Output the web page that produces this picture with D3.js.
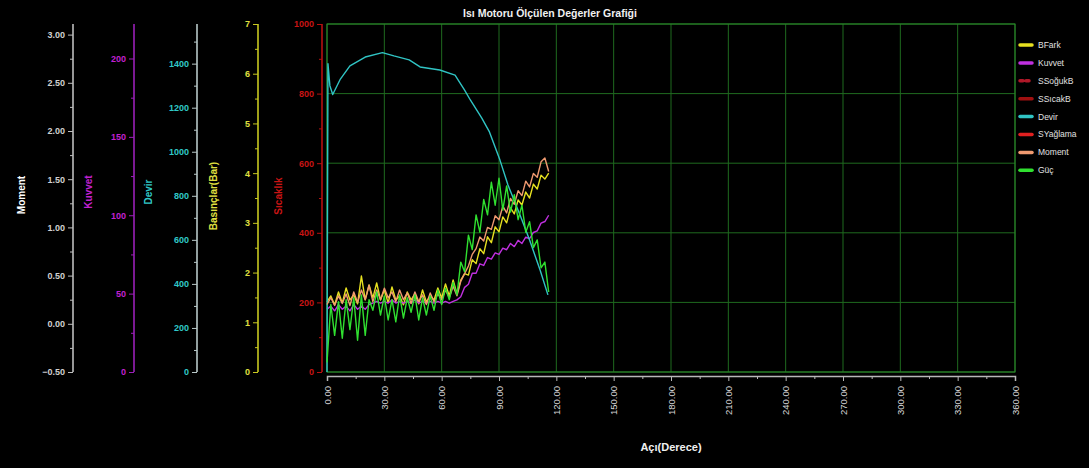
<!DOCTYPE html>
<html>
<head>
<meta charset="utf-8">
<script src="https://cdn.jsdelivr.net/npm/d3@7"></script>
<style>
  body { margin: 0; background: #000; }
  svg { display: block; font-family: "Liberation Sans", Arial, sans-serif; }
</style>
</head>
<body>
<svg id="chart" width="1089" height="468"></svg>
<script>
// angles (degrees) for the sampled series
const angles = [0,2,4,6,8,10,12,14,16,18,20,22,24,26,28,30,32,34,36,38,40,42,44,46,48,50,52,54,56,58,
  60,62,64,66,68,70,72,74,76,78,80,82,84,86,88,90,92,94,96,98,100,102,104,106,108,110,112,114,116];

const bFark = [1.41,1.53,1.35,1.61,1.39,1.69,1.45,1.55,1.37,1.93,1.45,1.75,1.49,1.79,1.45,1.65,1.39,1.71,1.45,1.53,
  1.35,1.61,1.45,1.57,1.37,1.65,1.41,1.53,1.45,1.69,1.49,1.77,1.53,1.85,1.57,
  1.85,1.98,1.95,2.26,2.18,2.48,2.38,2.72,2.60,2.92,2.82,3.12,3.00,3.30,3.18,3.46,3.36,3.62,3.50,3.78,3.68,3.96,3.88,4.00];

const kuvvet = [40,42,39,43,40,42,39,43,40,42,40,43,44,45,44,45,44,46,44,45,44,45,44,46,44,45,44,45,44,45,44,45,44,45,46,
  48,54,56,63,63,69,68,73,72,76,75,79,78,82,80,84,82,86,85,89,90,95,96,100];

const moment = [0.20,0.27,0.19,0.29,0.21,0.31,0.19,0.33,0.22,0.35,0.25,0.40,0.23,0.35,0.25,0.37,0.27,0.33,0.23,0.35,
  0.25,0.32,0.21,0.33,0.23,0.30,0.20,0.32,0.23,0.31,0.25,0.35,0.27,0.39,0.29,
  0.44,0.52,0.60,0.72,0.78,0.90,0.86,1.00,0.98,1.12,1.08,1.22,1.15,1.30,1.24,1.38,1.33,1.48,1.42,1.56,1.52,1.68,1.72,1.58];

const guc = [-0.40,0.20,-0.12,0.23,-0.15,0.25,-0.06,0.27,-0.17,0.30,-0.12,0.25,0.14,0.33,0.09,0.29,0.04,0.25,0.02,0.30,
  0.06,0.27,0.12,0.30,0.04,0.27,0.09,0.29,0.14,0.35,0.20,0.37,0.25,0.43,0.30,
  0.64,0.54,0.92,0.77,1.13,0.95,1.29,1.13,1.47,1.23,1.51,1.18,1.43,1.16,1.34,1.08,1.23,0.95,1.06,0.79,0.87,0.58,0.64,0.33];

const devirAngles = [0,0.5,1.5,3,7,12,20,29,35,43,48.7,59,67,72,75,81,85,90.5,94.7,101,106,111.5,115.6];
const devir = [0,1400,1300,1260,1330,1390,1430,1450,1435,1417,1385,1371,1348,1280,1235,1153,1090,962,849,713,599,463,350];

// tick labels
const angleTicks = [0,30,60,90,120,150,180,210,240,270,300,330,360];
const momentTicks = [-0.5,0,0.5,1,1.5,2,2.5,3];
const kuvvetTicks = [0,50,100,150,200];
const devirTicks = [0,200,400,600,800,1000,1200,1400];
const basincTicks = [0,1,2,3,4,5,6,7];
const sicaklikTicks = [0,200,400,600,800,1000];

const legendNames = ["BFark","Kuvvet","SSoğukB","SSıcakB","Devir","SYağlama","Moment","Güç"];
const legendColors = ["#e6e020","#c030e0","#b01828","#a01010","#30c4c4","#e02020","#f09a70","#30e030"];

const svg = d3.select("#chart");
const plot = {left: 327, right: 1015, top: 24, bottom: 372};

const x = d3.scaleLinear().domain([0,360]).range([plot.left, plot.right]);
const yMoment = d3.scaleLinear().domain([-0.5,3.11]).range([plot.bottom, plot.top]);
const yKuvvet = d3.scaleLinear().domain([0,222]).range([plot.bottom, plot.top]);
const yDevir = d3.scaleLinear().domain([0,1580]).range([plot.bottom, plot.top]);
const yBasinc = d3.scaleLinear().domain([0,7]).range([plot.bottom, plot.top]);
const ySicaklik = d3.scaleLinear().domain([0,1000]).range([plot.bottom, plot.top]);

svg.append("rect").attr("width",1089).attr("height",468).attr("fill","#000");

// grid
const grid = svg.append("g").attr("stroke","#1f6a1f").attr("stroke-width",1);
grid.selectAll("line.v").data(angleTicks).join("line")
  .attr("x1", d => x(d)).attr("x2", d => x(d))
  .attr("y1", plot.top).attr("y2", plot.bottom);
grid.selectAll("line.h").data(sicaklikTicks).join("line")
  .attr("x1", plot.left).attr("x2", plot.right)
  .attr("y1", d => ySicaklik(d)).attr("y2", d => ySicaklik(d));
svg.append("rect")
  .attr("x", plot.left).attr("y", plot.top)
  .attr("width", plot.right - plot.left).attr("height", plot.bottom - plot.top)
  .attr("fill","none").attr("stroke","#2a8a2a");

// left axes
const leftAxes = [
  {scale: yMoment, ticks: momentTicks, minorStep: 0.25, x: 73, color: "#d0d0d0", line: "#bdbdbd", fmt: d3.format(".2f"), title: "Moment", tx: 21, ty: 195, tcolor: "#ffffff"},
  {scale: yKuvvet, ticks: kuvvetTicks, minorStep: 25, x: 134, color: "#c020d0", line: "#9a20b8", fmt: d3.format("d"), title: "Kuvvet", tx: 88, ty: 192, tcolor: "#c020d0"},
  {scale: yDevir, ticks: devirTicks, minorStep: 100, x: 197, color: "#30c8c8", line: "#b8c8c8", fmt: d3.format("d"), title: "Devir", tx: 148, ty: 192, tcolor: "#30c8c8"},
  {scale: yBasinc, ticks: basincTicks, minorStep: 0.5, x: 258, color: "#e0e040", line: "#c8c820", fmt: d3.format("d"), title: "Basınçlar(Bar)", tx: 213, ty: 196, tcolor: "#e0e040"},
  {scale: ySicaklik, ticks: sicaklikTicks, minorStep: 100, x: 322, color: "#c81414", line: "#b81010", fmt: d3.format("d"), title: "Sıcaklık", tx: 278, ty: 196, tcolor: "#c81414"}
];

leftAxes.forEach(a => {
  const dom = a.scale.domain();
  const minor = d3.range(Math.ceil(dom[0] / a.minorStep) * a.minorStep, dom[1], a.minorStep)
    .filter(v => !a.ticks.some(t => Math.abs(t - v) < 1e-9));
  const g = svg.append("g").attr("transform", `translate(${a.x},0)`);
  g.call(d3.axisLeft(a.scale).tickValues(a.ticks).tickFormat(a.fmt).tickSize(5).tickPadding(3));
  g.append("g").call(d3.axisLeft(a.scale).tickValues(minor).tickFormat("").tickSize(3))
    .select(".domain").remove();
  g.selectAll(".domain").attr("stroke", a.line).attr("stroke-width", 1.6).attr("d", `M0,${plot.top}V${plot.bottom}`);
  g.selectAll(".tick line").attr("stroke", a.line);
  g.selectAll(".tick text").attr("fill", a.color).attr("font-size", 9).attr("font-weight", "bold");
  svg.append("text")
    .attr("transform", `translate(${a.tx},${a.ty}) rotate(-90)`)
    .attr("text-anchor", "middle").attr("dy", "0.35em")
    .attr("font-size", 10).attr("font-weight", "bold")
    .attr("fill", a.tcolor).text(a.title);
});

// x axis
const xMinor = angleTicks.slice(0, -1).map(d => d + 15);
const xg = svg.append("g").attr("transform", `translate(0,376)`);
xg.call(d3.axisBottom(x).tickValues(angleTicks).tickFormat(d3.format(".2f")).tickSize(5));
xg.append("g").call(d3.axisBottom(x).tickValues(xMinor).tickFormat("").tickSize(3)).select(".domain").remove();
xg.selectAll(".domain").attr("stroke", "#b8b8b8").attr("stroke-width", 1.5);
xg.selectAll(".tick line").attr("stroke", "#b8b8b8");
xg.selectAll(".tick text")
  .attr("fill", "#d8d8d8").attr("font-size", 9.5)
  .attr("text-anchor", "end")
  .attr("transform", "rotate(-90)")
  .attr("x", -10).attr("y", 0).attr("dy", "0.35em");

svg.append("text").attr("x", 671).attr("y", 451)
  .attr("text-anchor", "middle").attr("font-size", 11).attr("font-weight", "bold")
  .attr("fill", "#f0f0f0").text("Açı(Derece)");

svg.append("text").attr("x", 550).attr("y", 17)
  .attr("text-anchor", "middle").attr("font-size", 10.5).attr("font-weight", "bold")
  .attr("fill", "#f0f0f0").text("Isı Motoru Ölçülen Değerler Grafiği");

// series
const series = [
  {xs: angles, ys: bFark, y: yBasinc, color: legendColors[0]},
  {xs: angles, ys: kuvvet, y: yKuvvet, color: legendColors[1]},
  {xs: devirAngles, ys: devir, y: yDevir, color: legendColors[4]},
  {xs: angles, ys: moment, y: yMoment, color: legendColors[6]},
  {xs: angles, ys: guc, y: yMoment, color: legendColors[7]}
];
series.forEach(s => {
  const line = d3.line().x((d, i) => x(s.xs[i])).y(d => s.y(d));
  svg.append("path").datum(s.ys)
    .attr("d", line).attr("fill", "none")
    .attr("stroke", s.color).attr("stroke-width", 1.4)
    .attr("stroke-linejoin", "round");
});

// legend
const lg = svg.append("g").attr("transform", "translate(1020,45)");
const rows = lg.selectAll("g").data(legendNames).join("g")
  .attr("transform", (d, i) => `translate(0,${i * 17.9})`);
rows.append("line")
  .attr("x1", 0).attr("x2", 12).attr("y1", 0).attr("y2", 0)
  .attr("stroke", (d, i) => legendColors[i]).attr("stroke-width", 3.5)
  .attr("stroke-linecap", "round")
  .attr("stroke-dasharray", (d, i) => i === 2 ? "3,3" : null);
rows.append("text")
  .attr("x", 18).attr("dy", "0.35em")
  .attr("font-size", 8.5).attr("fill", "#e0e0e0").text(d => d);
</script>
</body>
</html>
